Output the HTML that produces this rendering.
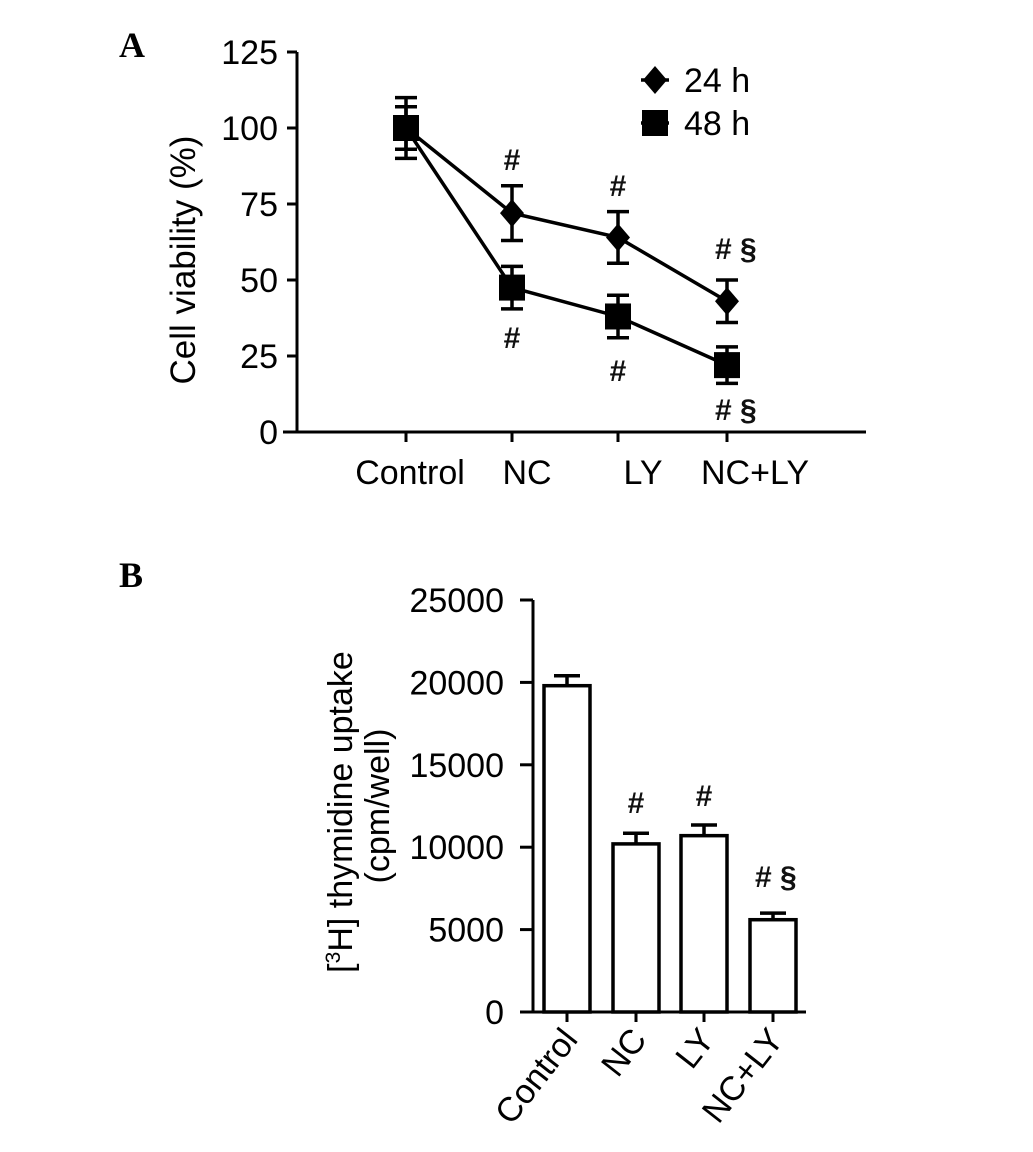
<!DOCTYPE html>
<html><head><meta charset="utf-8"><style>
html,body{margin:0;padding:0;background:#fff;}
svg{display:block;font-family:"Liberation Sans",Arial,sans-serif;}
</style></head><body>
<svg id="fig" width="1033" height="1152" viewBox="0 0 1033 1152">
<text x="119" y="57" font-family="Liberation Serif,serif" font-weight="bold" font-size="36">A</text>
<text x="119" y="587" font-family="Liberation Serif,serif" font-weight="bold" font-size="36">B</text>
<g id="pa"></g>
<g id="pb"></g>
</svg>
<script>
const catsA = ["Control","NC","LY","NC+LY"];
const v24 = [100,72,64,43];
const e24 = [10,9,8.5,7];
const v48 = [100,47.5,38,22];
const e48 = [7,7,7,6];
const ticksA = [0,25,50,75,100,125];
const catsB = ["Control","NC","LY","NC+LY"];
const valsB = [19800,10200,10700,5600];
const errB = [600,650,650,400];
const ticksB = [0,5000,10000,15000,20000,25000];

const FS=34;
const NS="http://www.w3.org/2000/svg";
function mk(parent,tag,attrs,txt){const e=document.createElementNS(NS,tag);for(const k in attrs)e.setAttribute(k,attrs[k]);if(txt!==undefined)e.textContent=txt;parent.appendChild(e);return e;}

// Panel A
const pa=document.getElementById('pa');
const yA=v=>432-(v/125)*380;
const xPos=[406,512,618,727];
const xLab=[410,527,643,755];
const xA=i=>xPos[i];
let ax=mk(pa,'line',{x1:297,y1:yA(0),x2:297,y2:yA(125),stroke:'#000','stroke-width':3});

ax=mk(pa,'line',{x1:283,y1:yA(0),x2:866,y2:yA(0),stroke:'#000','stroke-width':3});

ticksA.forEach(t=>{
  let l=mk(pa,'line',{x1:287,y1:yA(t),x2:297,y2:yA(t),stroke:'#000','stroke-width':3});
  
  let tx=mk(pa,'text',{x:278,y:yA(t)+12,'text-anchor':'end','font-size':FS},String(t));
  
});
catsA.forEach((c,i)=>{
  let l=mk(pa,'line',{x1:xA(i),y1:yA(0),x2:xA(i),y2:yA(0)+10,stroke:'#000','stroke-width':3});
  
  let tx=mk(pa,'text',{x:xLab[i],y:484,'text-anchor':'middle','font-size':FS},c);
  
});
let yt=mk(pa,'text',{x:0,y:0,'text-anchor':'middle','font-size':35,transform:'translate(195,260) rotate(-90)'},'Cell viability (%)');


function series(vals,errs,shape,name){
  const g=mk(pa,'g',{});
  
  let pts=vals.map((v,i)=>xA(i)+','+yA(v)).join(' ');
  mk(g,'polyline',{points:pts,fill:'none',stroke:'#000','stroke-width':3.5});
  vals.forEach((v,i)=>{
    const x=xA(i),t=yA(v+errs[i]),b=yA(v-errs[i]);
    let eb=mk(g,'path',{d:`M${x},${t}V${b}M${x-11},${t}H${x+11}M${x-11},${b}H${x+11}`,stroke:'#000','stroke-width':3.5,fill:'none'});
    
    let m;
    if(shape==='circle') m=mk(g,'path',{d:`M${x},${yA(v)-14}L${x+12},${yA(v)}L${x},${yA(v)+14}L${x-12},${yA(v)}Z`,fill:'#000'});
    else m=mk(g,'rect',{x:x-13,y:yA(v)-13,width:26,height:26,fill:'#000'});
    
  });
}
series(v24,e24,'circle','series-24h');
series(v48,e48,'square','series-48h');
// legend
let lg=mk(pa,'g',{});
mk(lg,'line',{x1:641,y1:80,x2:669,y2:80,stroke:'#000','stroke-width':3.5});
mk(lg,'path',{d:'M655,66L667,80L655,94L643,80Z',fill:'#000'});
let lt=mk(lg,'text',{x:684,y:92,'font-size':FS},'24 h');
mk(lg,'line',{x1:641,y1:123,x2:669,y2:123,stroke:'#000','stroke-width':3.5});
mk(lg,'rect',{x:642,y:110,width:26,height:26,fill:'#000'});
lt=mk(lg,'text',{x:684,y:135,'font-size':FS},'48 h');
// annotations A
const annA=[[512,170,'#'],[618,196,'#'],[727,259,'#  §'],[512,348,'#'],[618,381,'#'],[727,420,'# §']];
annA.forEach(a=>{let t=mk(pa,'text',{x:a[0],y:a[1],'text-anchor':a[2].length>1?'start':'middle','font-size':30,'font-weight':'bold',fill:'#111'},a[2]);
  if(a[2].length>1)t.setAttribute('x',a[0]-12);
  });

// Panel B
const pb=document.getElementById('pb');
const yB=v=>1012-(v/25000)*412;
const xBp=[567,636,704,773];
const xB=i=>xBp[i];
const bw=46;
ax=mk(pb,'line',{x1:533,y1:yB(0),x2:533,y2:yB(25000),stroke:'#000','stroke-width':3});

ax=mk(pb,'line',{x1:520,y1:yB(0),x2:806,y2:yB(0),stroke:'#000','stroke-width':3});

ticksB.forEach(t=>{
  let l=mk(pb,'line',{x1:520,y1:yB(t),x2:533,y2:yB(t),stroke:'#000','stroke-width':3});
  
  let tx=mk(pb,'text',{x:504,y:yB(t)+12,'text-anchor':'end','font-size':FS},String(t));
  
});
catsB.forEach((c,i)=>{
  const x=xB(i),v=valsB[i];
  let r=mk(pb,'rect',{x:x-bw/2,y:yB(v),width:bw,height:yB(0)-yB(v),fill:'#fff',stroke:'#000','stroke-width':3.5});
  
  let eb=mk(pb,'path',{d:`M${x},${yB(v)}V${yB(v+errB[i])}M${x-13},${yB(v+errB[i])}H${x+13}`,stroke:'#000','stroke-width':3.5});
  
  let l=mk(pb,'line',{x1:x,y1:yB(0),x2:x,y2:yB(0)+10,stroke:'#000','stroke-width':3});
  
  let tx=mk(pb,'text',{x:0,y:0,'text-anchor':'end','font-size':FS,transform:`translate(${x+12},${yB(0)+28}) rotate(-52)`},c);
  
});
let t1=mk(pb,'text',{x:0,y:0,'text-anchor':'middle','font-size':FS,transform:'translate(352,812) rotate(-90)'});

t1.appendChild(document.createTextNode('['));
mk(t1,'tspan',{'font-size':21,dy:-12},'3');
mk(t1,'tspan',{dy:12},'H] thymidine uptake');
let t2=mk(pb,'text',{x:0,y:0,'text-anchor':'middle','font-size':FS,transform:'translate(389,806) rotate(-90)'},'(cpm/well)');

const annB=[[636,813,'#'],[704,806,'#'],[755,887,'# §']];
annB.forEach(a=>{let t=mk(pb,'text',{x:a[0],y:a[1],'text-anchor':a[2].length>1?'start':'middle','font-size':30,'font-weight':'bold',fill:'#111'},a[2]);
  });
</script>
</body></html>
